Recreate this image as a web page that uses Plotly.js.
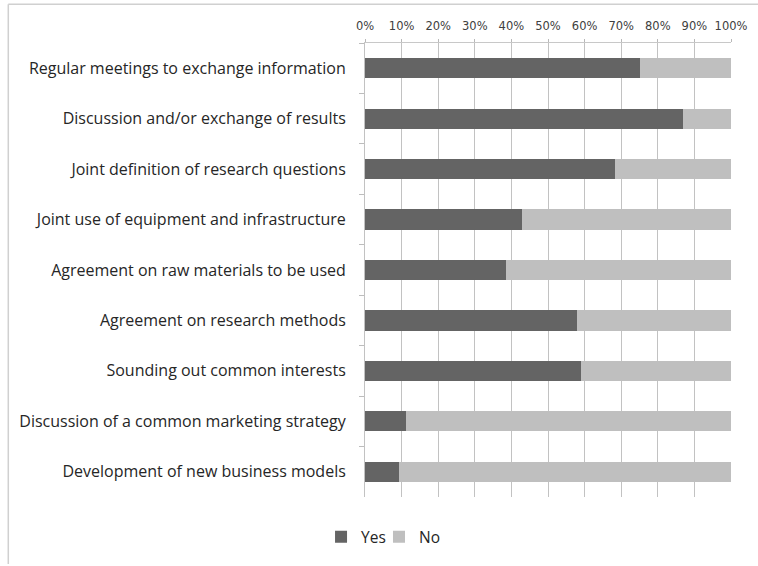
<!DOCTYPE html>
<html>
<head>
<meta charset="utf-8">
<script src="https://cdn.plot.ly/plotly-3.0.1.min.js"></script>
<style>html,body{margin:0;padding:0;background:#fff;}#chart{width:758px;height:566px;}</style>
</head>
<body>
<div id="chart"></div>
<script>
const categories = [
  "Regular meetings to exchange information",
  "Discussion and/or exchange of results",
  "Joint definition of research questions",
  "Joint use of equipment and infrastructure",
  "Agreement on raw materials to be used",
  "Agreement on research methods",
  "Sounding out common interests",
  "Discussion of a common marketing strategy",
  "Development of new business models"
];
const yesShare = [0.75, 0.869, 0.683, 0.429, 0.386, 0.579, 0.59, 0.113, 0.093];
const noShare = yesShare.map(v => +(1 - v).toFixed(3));
const seriesNames = ["Yes", "No"];
const tickValues = [0,0.1,0.2,0.3,0.4,0.5,0.6,0.7,0.8,0.9,1];
const tickLabels = ["0%","10%","20%","30%","40%","50%","60%","70%","80%","90%","100%"];

const W = 758, H = 566;
const L = 365, R = 731.3, T = 43.2, B = 502.3;
const pw = R - L, ph = B - T;
const px = x => (x - L) / pw;
const py = y => (B - y) / ph;

const traces = [
  {type:'bar', orientation:'h', name: seriesNames[0], y: categories, x: yesShare,
   marker:{color:'#646464'}, hoverinfo:'x+y', legend: 'legend'},
  {type:'bar', orientation:'h', name: seriesNames[1], y: categories, x: noShare,
   marker:{color:'#bfbfbf'}, hoverinfo:'x+y', legend: 'legend2'}
];

const legendFont = {family: 'Open Sans, Liberation Sans, sans-serif', size: 15.5, color: '#262626'};
const legendBase = {
  orientation: 'h', xanchor: 'left', y: py(543), yanchor: 'middle',
  font: legendFont, bgcolor: 'rgba(0,0,0,0)', itemwidth: 30,
  itemclick: false, itemdoubleclick: false
};

const layout = {
  width: W, height: H,
  margin: {l: L, r: W - R, t: T, b: H - B, pad: 0},
  barmode: 'stack',
  bargap: 0.6,
  paper_bgcolor: '#fff', plot_bgcolor: '#fff',
  font: {family: 'Open Sans, Liberation Sans, sans-serif', color: '#262626'},
  xaxis: {
    side: 'top', range: [0, 1], tickvals: tickValues, ticktext: tickLabels,
    showgrid: true, gridcolor: '#c2c2c2', gridwidth: 1,
    ticks: 'outside', ticklen: 3, tickcolor: '#b8b8b8',
    ticklabelstandoff: 4,
    zeroline: false, showline: true, linecolor: '#c8c8c8', linewidth: 1,
    fixedrange: true,
    tickfont: {family: 'DejaVu Sans, Verdana, sans-serif', size: 11.5, color: '#404040'}
  },
  yaxis: {
    type: 'category', autorange: 'reversed',
    ticks: 'outside', ticklen: 5, tickcolor: '#bdbdbd', tickson: 'boundaries',
    showline: true, linecolor: '#c2c2c2', linewidth: 1,
    showgrid: false, zeroline: false, fixedrange: true,
    ticklabelstandoff: 15,
    tickfont: {family: 'Open Sans, Liberation Sans, sans-serif', size: 16, color: '#262626'}
  },
  showlegend: true,
  legend: Object.assign({}, legendBase, {x: px(321)}),
  legend2: Object.assign({}, legendBase, {x: px(379)}),
  shapes: [
    {type:'line', xref:'paper', yref:'paper', x0: px(8), x1: px(8), y0: py(4), y1: py(570),
     line:{color:'#d0d0d0', width:1.5}},
    {type:'line', xref:'paper', yref:'paper', x0: px(8), x1: px(760), y0: py(4), y1: py(4),
     line:{color:'#d0d0d0', width:1.5}}
  ]
};

Plotly.newPlot('chart', traces, layout, {displayModeBar: false, staticPlot: true});
</script>
</body>
</html>
